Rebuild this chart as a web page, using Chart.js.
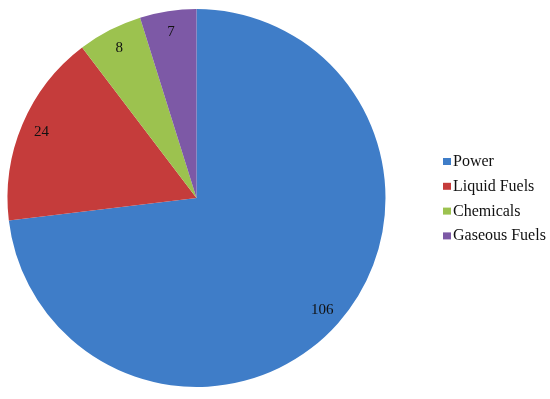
<!DOCTYPE html>
<html>
<head>
<meta charset="utf-8">
<script src="https://cdn.jsdelivr.net/npm/chart.js@4.4.0/dist/chart.umd.min.js"></script>
<style>
html,body{margin:0;padding:0;background:#fff;}
#wrap{width:550px;height:399px;}
</style>
</head>
<body>
<div id="wrap"><canvas id="c" width="550" height="399"></canvas></div>
<script>
const categories = ["Power", "Liquid Fuels", "Chemicals", "Gaseous Fuels"];
const values = [106, 24, 8, 7];
const colors = ["#3F7DC8", "#C53C3B", "#9CC24F", "#7D59A6"];

const labelPlugin = {
  id: 'sliceLabels',
  afterDatasetsDraw(chart) {
    const ctx = chart.ctx;
    const meta = chart.getDatasetMeta(0);
    ctx.save();
    ctx.font = '15px "Liberation Serif", "Times New Roman", serif';
    ctx.fillStyle = '#111';
    ctx.textAlign = 'center';
    ctx.textBaseline = 'middle';
    meta.data.forEach((arc, i) => {
      const p = arc.getProps(['x','y','startAngle','endAngle','outerRadius'], true);
      const mid = (p.startAngle + p.endAngle) / 2;
      const r = p.outerRadius * 0.89;
      ctx.fillText(String(chart.data.datasets[0].data[i]), p.x + Math.cos(mid) * r, p.y + Math.sin(mid) * r);
    });
    ctx.restore();
  }
};

const legendPlugin = {
  id: 'customLegend',
  afterDraw(chart) {
    const ctx = chart.ctx;
    ctx.save();
    ctx.font = '16px "Liberation Serif", "Times New Roman", serif';
    ctx.textBaseline = 'alphabetic';
    ctx.textAlign = 'left';
    const x0 = 443, y0 = 161, step = 24.8;
    chart.data.labels.forEach((lab, i) => {
      const y = y0 + i * step;
      ctx.fillStyle = chart.data.datasets[0].backgroundColor[i];
      ctx.fillRect(x0, y - 3, 8, 7);
      ctx.fillStyle = '#111';
      ctx.fillText(lab, x0 + 10, y + 5);
    });
    ctx.restore();
  }
};

new Chart(document.getElementById('c'), {
  type: 'pie',
  data: {
    labels: categories,
    datasets: [{
      data: values,
      backgroundColor: colors,
      borderWidth: 0
    }]
  },
  options: {
    responsive: false,
    animation: false,
    layout: { padding: { left: 7, right: 164, top: 9, bottom: 12 } },
    plugins: {
      legend: { display: false },
      tooltip: { enabled: false }
    }
  },
  plugins: [labelPlugin, legendPlugin]
});
</script>
</body>
</html>
